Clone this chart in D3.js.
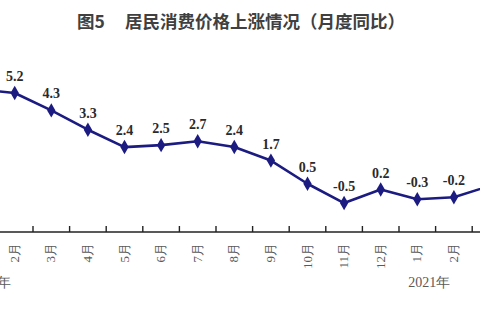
<!DOCTYPE html>
<html>
<head>
<meta charset="utf-8">
<script src="https://cdn.jsdelivr.net/npm/d3@7"></script>
<style>
  body { margin: 0; background: #fff; }
  svg { display: block; }
</style>
</head>
<body>
<div id="chart"></div>
<script>
var width = 480,
    height = 320;

// months from Jan 2020 to Mar 2021, CPI year-on-year (%)
var months = ["1月", "2月", "3月", "4月", "5月", "6月", "7月", "8月", "9月", "10月", "11月", "12月", "1月", "2月", "3月"];
var values = [5.4, 5.2, 4.3, 3.3, 2.4, 2.5, 2.7, 2.4, 1.7, 0.5, -0.5, 0.2, -0.3, -0.2, 0.4];
var yearLabels = ["2020年", "2021年"];
var yearAt = [0, 12];

var navy = "#1b1b82";

var svg = d3.select("#chart").append("svg")
    .attr("width", width)
    .attr("height", height);

var idx = months.map(function(d, i) { return i; });

var bw = 36.6;
var x = d3.scaleBand()
    .domain(idx)
    .range([-40.2, -40.2 + bw * idx.length]);

var y = d3.scaleLinear()
    .domain([-2, 6])
    .range([232, 77.6]);

// title
var title = svg.append("text")
    .attr("y", 28)
    .attr("font-family", "'Noto Sans CJK SC', sans-serif")
    .attr("font-weight", 700)
    .attr("font-size", 17.5)
    .attr("fill", "#404040");
title.append("tspan").attr("x", 77).text("图5");
title.append("tspan").attr("x", 125).text("居民消费价格上涨情况（月度同比）");

// axis at the bottom, ticks pointing up
var axis = svg.append("g")
    .attr("transform", "translate(0," + y(-2) + ")");

axis.append("line")
    .attr("x1", 0).attr("x2", width)
    .attr("stroke", "#222")
    .attr("stroke-width", 1.6);

axis.selectAll(".tick")
    .data(idx.slice(1))
    .enter().append("line")
    .attr("x1", function(d) { return x(d); })
    .attr("x2", function(d) { return x(d); })
    .attr("y1", 0).attr("y2", -6)
    .attr("stroke", "#222")
    .attr("stroke-width", 1.4);

axis.selectAll(".mlabel")
    .data(idx)
    .enter().append("text")
    .attr("transform", function(d) {
      return "translate(" + (x(d) + x.bandwidth() / 2 + 4) + ",11) rotate(-90)";
    })
    .attr("text-anchor", "end")
    .attr("font-family", "'Liberation Serif', serif")
    .attr("font-size", 13)
    .attr("fill", "#5a5a5a")
    .text(function(d) { return months[d]; });

svg.selectAll(".year")
    .data(yearLabels)
    .enter().append("text")
    .attr("x", function(d, i) { return x(yearAt[i]) + x.bandwidth() / 2 + 12; })
    .attr("y", 287)
    .attr("text-anchor", "middle")
    .attr("font-family", "'Liberation Serif', serif")
    .attr("font-size", 14)
    .attr("fill", "#5a5a5a")
    .text(function(d) { return d; });

// line
var line = d3.line()
    .x(function(d) { return x(d) + x.bandwidth() / 2; })
    .y(function(d) { return y(values[d]); });

svg.append("path")
    .datum(idx)
    .attr("d", line)
    .attr("fill", "none")
    .attr("stroke", navy)
    .attr("stroke-width", 2.6)
    .attr("stroke-linejoin", "round");

svg.selectAll(".pt")
    .data(idx)
    .enter().append("path")
    .attr("d", d3.symbol().type(d3.symbolDiamond).size(60))
    .attr("transform", function(d) {
      return "translate(" + (x(d) + x.bandwidth() / 2) + "," + y(values[d]) + ")";
    })
    .attr("fill", navy);

svg.selectAll(".val")
    .data(idx)
    .enter().append("text")
    .attr("x", function(d) { return x(d) + x.bandwidth() / 2; })
    .attr("y", function(d) { return y(values[d]) - 12; })
    .attr("text-anchor", "middle")
    .attr("font-family", "'Liberation Serif', serif")
    .attr("font-weight", "bold")
    .attr("font-size", 14)
    .attr("fill", "#2a2a2a")
    .text(function(d) { return values[d].toFixed(1); });
</script>
</body>
</html>
